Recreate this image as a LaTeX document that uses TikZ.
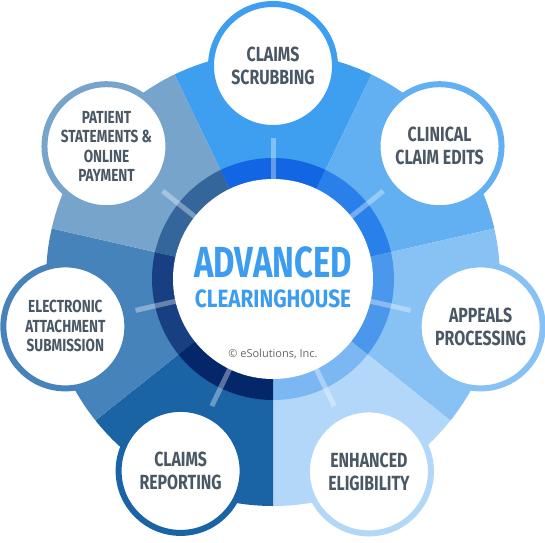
\documentclass[tikz,border=0pt]{standalone}
\usepackage{fontspec}
\newfontfamily\condfont{Fira Sans}[FakeStretch=0.775]
\newfontfamily\hubfont{Fira Sans}[FakeStretch=0.755]
\newfontfamily\housefont{Fira Sans}[FakeStretch=0.83]
\newfontfamily\copyfont{Open Sans}
\definecolor{scrubC}{HTML}{3E9FF1}
\definecolor{scrubR}{HTML}{1266E4}
\definecolor{clinC}{HTML}{62AFF2}
\definecolor{clinR}{HTML}{2A80EA}
\definecolor{appealC}{HTML}{88C2F5}
\definecolor{appealR}{HTML}{4B97EC}
\definecolor{eligC}{HTML}{B2D7F9}
\definecolor{eligR}{HTML}{7BB7F2}
\definecolor{reportC}{HTML}{1A64A6}
\definecolor{reportR}{HTML}{042769}
\definecolor{attachC}{HTML}{4683BB}
\definecolor{attachR}{HTML}{173F81}
\definecolor{patientC}{HTML}{76A4CB}
\definecolor{patientR}{HTML}{34669B}
\definecolor{labelgray}{HTML}{4A5865}
\definecolor{hubblue}{HTML}{3B9CF0}
\tikzset{
  sat/.style={circle, draw, fill=white, line width=6pt, minimum size=124pt,
    inner sep=0pt, align=center, text=labelgray,
    font=\condfont\bfseries\fontsize{20.5}{23}\selectfont},
  satsmall/.style={sat, font=\condfont\bfseries\fontsize{17.5}{19.5}\selectfont},
  tick/.style={white, opacity=0.35, line width=5pt}
}

\begin{document}
\begin{tikzpicture}[x=1pt, y=1pt]
\useasboundingbox (-273,-263) rectangle (272,279);
% Sectors
    \fill[scrubC] (0,0) -- (64.29:227pt) arc (64.29:115.71:227pt) -- cycle;
    \fill[clinC] (0,0) -- (12.86:227pt) arc (12.86:64.29:227pt) -- cycle;
    \fill[appealC] (0,0) -- (-38.57:227pt) arc (-38.57:12.86:227pt) -- cycle;
    \fill[eligC] (0,0) -- (-90:227pt) arc (-90:-38.57:227pt) -- cycle;
    \fill[reportC] (0,0) -- (218.57:227pt) arc (218.57:270:227pt) -- cycle;
    \fill[attachC] (0,0) -- (167.14:227pt) arc (167.14:218.57:227pt) -- cycle;
    \fill[patientC] (0,0) -- (115.71:227pt) arc (115.71:167.14:227pt) -- cycle;
% Inner ring
    \fill[scrubR] (0,0) -- (64.29:121pt) arc (64.29:115.71:121pt) -- cycle;
    \fill[clinR] (0,0) -- (12.86:121pt) arc (12.86:64.29:121pt) -- cycle;
    \fill[appealR] (0,0) -- (-38.57:121pt) arc (-38.57:12.86:121pt) -- cycle;
    \fill[eligR] (0,0) -- (-90:121pt) arc (-90:-38.57:121pt) -- cycle;
    \fill[reportR] (0,0) -- (218.57:121pt) arc (218.57:270:121pt) -- cycle;
    \fill[attachR] (0,0) -- (167.14:121pt) arc (167.14:218.57:121pt) -- cycle;
    \fill[patientR] (0,0) -- (115.71:121pt) arc (115.71:167.14:121pt) -- cycle;
% Ticks
    \draw[tick] (90:96pt) -- (90:141pt);
    \draw[tick] (38.57:96pt) -- (38.57:141pt);
    \draw[tick] (-12.86:96pt) -- (-12.86:141pt);
    \draw[tick] (-64.29:96pt) -- (-64.29:141pt);
    \draw[tick] (244.29:96pt) -- (244.29:141pt);
    \draw[tick] (192.86:96pt) -- (192.86:141pt);
    \draw[tick] (141.43:96pt) -- (141.43:141pt);
% Hub
    \node[circle, fill=white, minimum size=200pt, inner sep=0pt] (hub) at (0,0) {};
    \node[anchor=base, text=hubblue, inner sep=0pt,
      font=\hubfont\bfseries\fontsize{43.5}{44}\selectfont] (advanced) at (0,2) {ADVANCED};
    \node[anchor=base, text=hubblue, inner sep=0pt,
      font=\housefont\bfseries\fontsize{25}{25}\selectfont] (clearing) at (0,-28) {CLEARINGHOUSE};
    \node[anchor=base, text=black!60, inner sep=0pt,
      font=\copyfont\fontsize{11}{12}\selectfont] (copyright) at (0,-78) {© eSolutions, Inc.};
% Satellites
    \node[sat, draw=scrubC] (scrubbing) at (90:213pt) {CLAIMS\\SCRUBBING};
    \node[sat, draw=clinC] (clinical) at (38.57:213pt) {CLINICAL\\CLAIM EDITS};
    \node[sat, draw=appealC] (appeals) at (-12.86:213pt) {APPEALS\\PROCESSING};
    \node[sat, draw=eligC] (eligibility) at (-63.5:215pt) {ENHANCED\\ELIGIBILITY};
    \node[sat, draw=reportC] (reporting) at (244.29:213pt) {CLAIMS\\REPORTING};
    \node[satsmall, draw=attachC] (attachment) at (192.86:213pt) {ELECTRONIC\\ATTACHMENT\\SUBMISSION};
    \node[satsmall, draw=patientC] (statements) at (141.43:213pt) {PATIENT\\STATEMENTS \&\\ONLINE\\PAYMENT};
\end{tikzpicture}
\end{document}
